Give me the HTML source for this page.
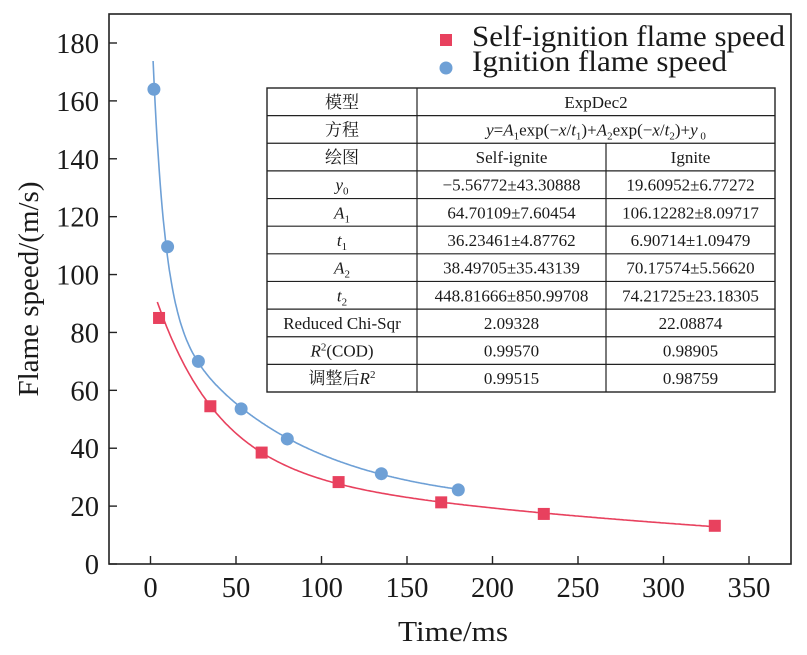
<!DOCTYPE html>
<html><head><meta charset="utf-8"><style>
body{margin:0;background:#fff}
svg text{font-family:"Liberation Serif","Noto Serif CJK SC",serif;fill:#1a1a1a}
</style></head><body>
<svg id="chart" width="807" height="650" viewBox="0 0 807 650" xmlns="http://www.w3.org/2000/svg">
<rect x="109" y="14" width="682" height="550" fill="none" stroke="#222" stroke-width="1.6"/>
<g id="ticks"></g>
<g id="curves"></g>
<g id="marks"></g>
<text x="453" y="641" font-size="29" text-anchor="middle" textLength="110" lengthAdjust="spacingAndGlyphs">Time/ms</text>
<text transform="translate(38,289) rotate(-90)" font-size="29" text-anchor="middle" textLength="215" lengthAdjust="spacingAndGlyphs">Flame speed/(m/s)</text>
<g>
<rect x="440" y="34" width="12" height="12" fill="#e8415e"/>
<text x="472" y="46" font-size="30" textLength="313" lengthAdjust="spacingAndGlyphs">Self-ignition flame speed</text>
<circle cx="446" cy="68" r="6.5" fill="#6ea0d6"/>
<text x="472" y="71" font-size="30" textLength="255" lengthAdjust="spacingAndGlyphs">Ignition flame speed</text>
</g>
<g id="table"></g>
</svg>
<script>
const xTicks=[0,50,100,150,200,250,300,350];
const yTicks=[0,20,40,60,80,100,120,140,160,180];
const selfX=[5,35,65,110,170,230,330];
const selfY=[85,54.5,38.5,28.3,21.3,17.3,13.2];
const ignX=[2,10,28,53,80,135,180];
const ignY=[164,109.6,70,53.6,43.2,31.2,25.6];
const selfFit=[-5.56772,64.70109,36.23461,38.49705,448.81666];
const ignFit=[19.60952,106.12282,6.90714,70.17574,74.21725];
const NS="http://www.w3.org/2000/svg";
const sx=v=>150.5+v*1.71;
const sy=v=>564-v*(521/180);
function mk(tag,attrs,parent){const e=document.createElementNS(NS,tag);for(const k in attrs)e.setAttribute(k,attrs[k]);parent.appendChild(e);return e;}
const tk=document.getElementById('ticks');
xTicks.forEach(v=>{
 const l=mk('line',{x1:sx(v),x2:sx(v),y1:564,y2:556,stroke:'#222','stroke-width':1.4},tk);
 
 
 const s=String(v);
 const t=mk('text',{x:sx(v),y:597,'font-size':29,'text-anchor':'middle',textLength:14.3*s.length,lengthAdjust:'spacingAndGlyphs'},tk);t.textContent=s;
 
 
});
yTicks.forEach(v=>{
 const l=mk('line',{x1:109,x2:117,y1:sy(v),y2:sy(v),stroke:'#222','stroke-width':1.4},tk);
 
 
 const s=String(v);
 const t=mk('text',{x:99,y:sy(v)+10,'font-size':29,'text-anchor':'end',textLength:14.3*s.length,lengthAdjust:'spacingAndGlyphs'},tk);t.textContent=s;
 
 
});
function curve(p,x0,x1,color,name){
 let d='';
 for(let i=0;i<=300;i++){const x=x0+(x1-x0)*i/300;const y=p[0]+p[1]*Math.exp(-x/p[2])+p[3]*Math.exp(-x/p[4]);d+=(i?'L':'M')+sx(x).toFixed(1)+','+sy(y).toFixed(1);}
 const e=mk('path',{d:d,fill:'none',stroke:color,'stroke-width':1.6},document.getElementById('curves'));
 
 
}
curve(selfFit,selfX[0]-1,selfX[selfX.length-1],'#e8415e','self-ignition-fit-curve');
curve(ignFit,1.5,ignX[ignX.length-1],'#6ea0d6','ignition-fit-curve');
const mg=document.getElementById('marks');
selfX.forEach((x,i)=>{
 const r=mk('rect',{x:sx(x)-6,y:sy(selfY[i])-6,width:12,height:12,fill:'#e8415e'},mg);
 
 
});
ignX.forEach((x,i)=>{
 const c=mk('circle',{cx:sx(x),cy:sy(ignY[i]),r:6.5,fill:'#6ea0d6'},mg);
 
 
});
const tb=document.getElementById('table');
const L=267,R=775,T=88,B=392,C1=417,C2=606,rh=(B-T)/11;
mk('rect',{x:L,y:T,width:R-L,height:B-T,fill:'#fff',stroke:'#222','stroke-width':1.4},tb);
for(let i=1;i<11;i++)mk('line',{x1:L,x2:R,y1:T+i*rh,y2:T+i*rh,stroke:'#222','stroke-width':1.2},tb);
mk('line',{x1:C1,x2:C1,y1:T,y2:B,stroke:'#222','stroke-width':1.2},tb);
mk('line',{x1:C2,x2:C2,y1:T+2*rh,y2:B,stroke:'#222','stroke-width':1.2},tb);
const rows=[
 ['模型','ExpDec2',null],
 ['方程','<tspan font-style="italic">y</tspan>=<tspan font-style="italic">A</tspan><tspan font-size="11" dy="4">1</tspan><tspan dy="-4">exp(−</tspan><tspan font-style="italic">x</tspan>/<tspan font-style="italic">t</tspan><tspan font-size="11" dy="4">1</tspan><tspan dy="-4">)+</tspan><tspan font-style="italic">A</tspan><tspan font-size="11" dy="4">2</tspan><tspan dy="-4">exp(−</tspan><tspan font-style="italic">x</tspan>/<tspan font-style="italic">t</tspan><tspan font-size="11" dy="4">2</tspan><tspan dy="-4">)+</tspan><tspan font-style="italic">y</tspan><tspan font-size="11" dy="4"> 0</tspan>',null],
 ['绘图','Self-ignite','Ignite'],
 ['<tspan font-style="italic">y</tspan><tspan font-size="11" dy="4">0</tspan>','−5.56772±43.30888','19.60952±6.77272'],
 ['<tspan font-style="italic">A</tspan><tspan font-size="11" dy="4">1</tspan>','64.70109±7.60454','106.12282±8.09717'],
 ['<tspan font-style="italic">t</tspan><tspan font-size="11" dy="4">1</tspan>','36.23461±4.87762','6.90714±1.09479'],
 ['<tspan font-style="italic">A</tspan><tspan font-size="11" dy="4">2</tspan>','38.49705±35.43139','70.17574±5.56620'],
 ['<tspan font-style="italic">t</tspan><tspan font-size="11" dy="4">2</tspan>','448.81666±850.99708','74.21725±23.18305'],
 ['Reduced Chi-Sqr','2.09328','22.08874'],
 ['<tspan font-style="italic">R</tspan><tspan font-size="11" dy="-6">2</tspan><tspan dy="6">(COD)</tspan>','0.99570','0.98905'],
 ['调整后<tspan font-style="italic">R</tspan><tspan font-size="11" dy="-6">2</tspan>','0.99515','0.98759']
];
rows.forEach((r,i)=>{
 const y=T+i*rh+rh/2+6;
 const a=mk('text',{x:(L+C1)/2,y:y,'font-size':17,'text-anchor':'middle'},tb);a.innerHTML=r[0];
 
 
 if(r[2]===null){
  const b=mk('text',{x:(C1+R)/2,y:y,'font-size':17,'text-anchor':'middle'},tb);b.innerHTML=r[1];
  
  
 }else{
  const b=mk('text',{x:(C1+C2)/2,y:y,'font-size':17,'text-anchor':'middle'},tb);b.innerHTML=r[1];
  
  
  const c=mk('text',{x:(C2+R)/2,y:y,'font-size':17,'text-anchor':'middle'},tb);c.innerHTML=r[2];
  
  
 }
});
</script>
</body></html>
